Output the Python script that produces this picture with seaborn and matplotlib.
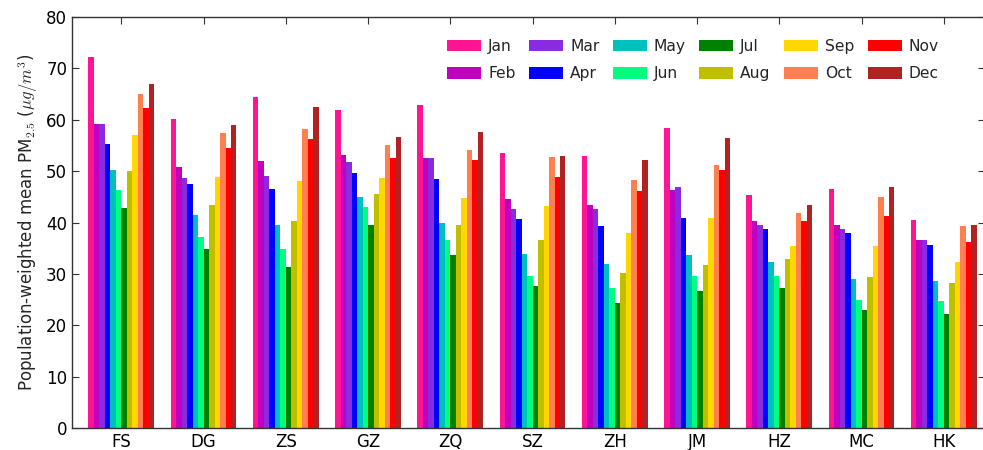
import numpy as np
import pandas as pd
import matplotlib
matplotlib.use("Agg")
import matplotlib.pyplot as plt
import seaborn as sns

cities = ["FS", "DG", "ZS", "GZ", "ZQ", "SZ", "ZH", "JM", "HZ", "MC", "HK"]
months = ["Jan", "Feb", "Mar", "Apr", "May", "Jun",
          "Jul", "Aug", "Sep", "Oct", "Nov", "Dec"]
month_colors = ["#FF1493", "#BF00BF", "#8A2BE2", "#0000FF", "#00BFBF", "#00FF7F",
                "#008000", "#BFBF00", "#FFD700", "#FF7F50", "#FF0000", "#B22222"]

# Monthly population-weighted mean PM2.5 per city (Jan..Dec)
pm_FS = [72.2, 59.2, 59.2, 55.3, 50.2, 46.3, 42.9, 50.0, 57.1, 65.0, 62.3, 66.9]
pm_DG = [60.1, 50.9, 48.7, 47.4, 41.4, 37.1, 34.8, 43.5, 48.9, 57.4, 54.5, 59.0]
pm_ZS = [64.4, 52.0, 49.1, 46.6, 39.6, 34.9, 31.4, 40.2, 48.1, 58.2, 56.2, 62.4]
pm_GZ = [61.9, 53.2, 51.7, 49.7, 44.9, 43.1, 39.5, 45.6, 48.7, 55.1, 52.6, 56.7]
pm_ZQ = [62.8, 52.6, 52.6, 48.4, 40.0, 36.6, 33.7, 39.6, 44.7, 54.2, 52.1, 57.6]
pm_SZ = [53.5, 44.5, 42.7, 40.6, 33.9, 29.6, 27.6, 36.6, 43.2, 52.7, 48.8, 52.9]
pm_ZH = [52.9, 43.5, 42.6, 39.3, 32.0, 27.3, 24.4, 30.1, 38.0, 48.2, 46.1, 52.2]
pm_JM = [58.3, 46.4, 46.9, 40.8, 33.7, 29.5, 26.6, 31.8, 40.9, 51.1, 50.3, 56.4]
pm_HZ = [45.3, 40.3, 39.5, 38.7, 32.3, 29.5, 27.3, 32.8, 35.4, 41.9, 40.2, 43.4]
pm_MC = [46.5, 39.6, 38.8, 37.9, 29.0, 25.0, 22.9, 29.4, 35.4, 44.9, 41.2, 47.0]
pm_HK = [40.4, 36.6, 36.6, 35.6, 28.7, 24.8, 22.1, 28.2, 32.4, 39.3, 36.2, 39.5]

city_values = [pm_FS, pm_DG, pm_ZS, pm_GZ, pm_ZQ, pm_SZ,
               pm_ZH, pm_JM, pm_HZ, pm_MC, pm_HK]

rows = []
for city, vals in zip(cities, city_values):
    for m, v in zip(months, vals):
        rows.append({"city": city, "month": m, "pm25": v})
df = pd.DataFrame(rows)

sns.set_style("ticks")
plt.rcParams["font.family"] = ["DejaVu Sans"]
plt.rcParams["mathtext.fontset"] = "cm"

fig = plt.figure(figsize=(9.83, 4.5), dpi=100)
ax = fig.add_axes([72 / 983, 22 / 450, 1.0 - 72 / 983 + 0.002, 411 / 450])

sns.barplot(data=df, x="city", y="pm25", hue="month", order=cities,
            hue_order=months, palette=month_colors, width=0.8, gap=0,
            linewidth=0, saturation=1, errorbar=None, ax=ax)

ax.set_ylim(0, 80)
ax.set_yticks(np.arange(0, 81, 10))
ax.set_xlim(-0.6, 10.5)
ax.set_xlabel("")
ax.set_ylabel(r"Population-weighted mean PM$_{2.5}$ ($\mu g/m^3$)", fontsize=12)
ax.tick_params(axis="both", direction="in", top=True, right=True,
               labelsize=12, length=5, width=0.8, colors="#333333",
               labelcolor="black")
for s in ax.spines.values():
    s.set_visible(True)
    s.set_linewidth(1.0)
    s.set_color("#333333")

handles, labels = ax.get_legend_handles_labels()
ax.legend(handles, labels, ncol=6, frameon=False, fontsize=11.2,
          loc="upper right", bbox_to_anchor=(939 / 983, 1 - 39 / 450),
          bbox_transform=fig.transFigure, handletextpad=0.45,
          columnspacing=0.85, borderaxespad=0, borderpad=0,
          handlelength=2.2, handleheight=0.75, labelspacing=0.8)

fig.savefig("out.png", dpi=100)
